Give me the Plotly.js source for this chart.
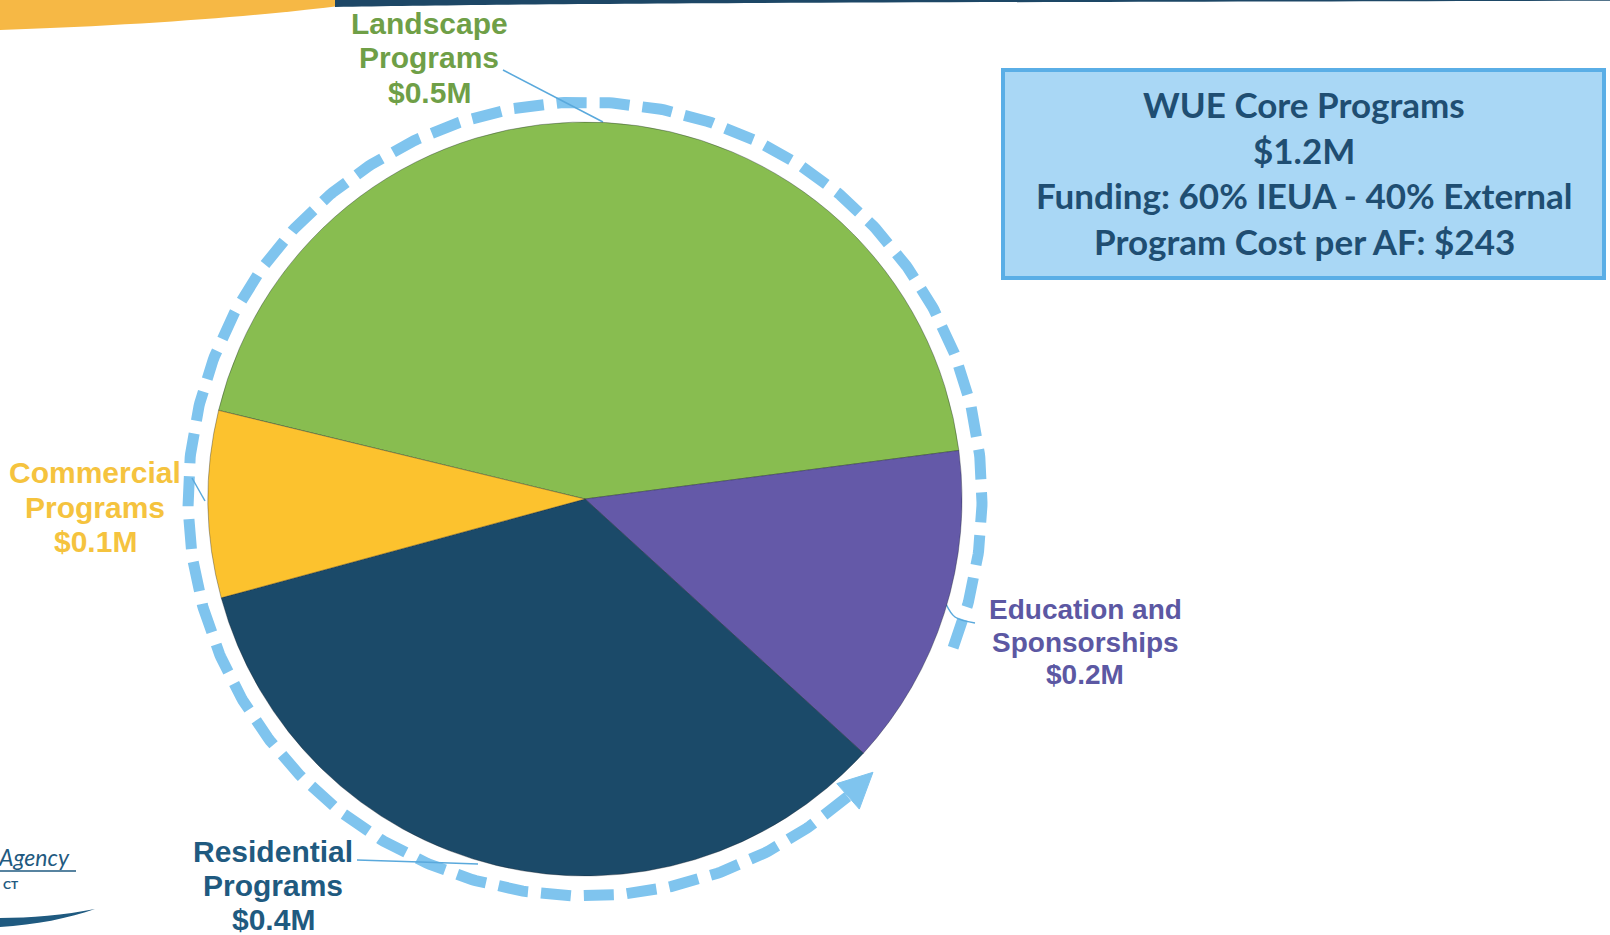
<!DOCTYPE html>
<html><head><meta charset="utf-8">
<script src="https://cdn.plot.ly/plotly-3.0.1.min.js"></script>
<style>html,body{margin:0;padding:0;background:#fff;overflow:hidden}</style>
</head><body>
<div id="chart" style="width:1610px;height:935px"></div>
<script>
// ---------- data ----------
const categories = ["Landscape Programs", "Education and Sponsorships", "Residential Programs", "Commercial Programs"];
const valuesM = [0.53, 0.166, 0.408, 0.096];          // $ millions
const labelLines = [["Landscape", "Programs"], ["Education and", "Sponsorships"], ["Residential", "Programs"], ["Commercial", "Programs"]];
const boxLines = ["WUE Core Programs", "$1.2M", "Funding: 60% IEUA - 40% External", "Program Cost per AF: $243"];
const logoTexts = ["Agency", "CT"];

// ---------- styles / layout geometry ----------
const W = 1610, H = 935;
const sliceColors = ["#88bd50", "#6459a8", "#1b4a69", "#fcc22e"];
const labelColors = ["#6f9f47", "#5c58a3", "#1f5a80", "#f5c33e"];
const pie = {cx: 585, cy: 499, r: 377};
const ring = {r: 397, start: -22, end: 311.5, color: "#7fc4ee", width: 11};
const labelPos = [
  {x: 429, ys: [23, 57, 92], size: 30},
  {x: 1085, ys: [609, 642, 674], size: 28},
  {x: 273, ys: [851, 885, 919], size: 30},
  {x: 95, ys: [472, 507, 541], size: 30}
];
const leaders = [
  [[503, 70], [603, 122]],
  [[946, 604], [955, 617], [975, 623]],
  [[357, 860], [420, 862], [478, 864]],
  [[192, 478], [205, 501]]
];
const box = {x0: 1003, x1: 1604, y0: 70, y1: 278, cx: 1304, ys: [104, 150, 195, 241], size: 35};

const fmt = v => "$" + v.toFixed(1) + "M";

// ---------- traces ----------
const traces = [];
traces.push({
  type: "pie", values: valuesM, labels: categories, sort: false,
  direction: "clockwise", rotation: -76.4,
  marker: {colors: sliceColors, line: {color: "rgba(20,30,40,0.35)", width: 1}},
  textinfo: "none", hoverinfo: "label+value", showlegend: false,
  domain: {x: [(pie.cx - pie.r) / W, (pie.cx + pie.r) / W],
           y: [(H - pie.cy - pie.r) / H, (H - pie.cy + pie.r) / H]}
});

// dashed ring with arrow
const rx = [], ry = [];
for (let a = ring.start; a <= ring.end + 1e-9; a += 0.5) {
  const t = a * Math.PI / 180;
  rx.push(pie.cx + ring.r * Math.cos(t));
  ry.push(pie.cy - ring.r * Math.sin(t));
}
traces.push({type: "scatter", mode: "lines", x: rx, y: ry, hoverinfo: "skip", showlegend: false,
  line: {color: ring.color, width: ring.width, dash: "30px,13px"}});
const P = (a, r) => { const t = a * Math.PI / 180; return [pie.cx + r * Math.cos(t), pie.cy - r * Math.sin(t)]; };
const tip = P(ring.end + 5, ring.r), b1 = P(ring.end, ring.r + 17), b2 = P(ring.end, ring.r - 17);
traces.push({type: "scatter", mode: "lines", fill: "toself", fillcolor: ring.color,
  x: [tip[0], b1[0], b2[0], tip[0]], y: [tip[1], b1[1], b2[1], tip[1]],
  line: {color: ring.color, width: 1}, hoverinfo: "skip", showlegend: false});

// leader lines
leaders.forEach(l => traces.push({type: "scatter", mode: "lines", x: l.map(p => p[0]), y: l.map(p => p[1]),
  line: {color: "#5aa9dc", width: 1.5, shape: "spline"}, hoverinfo: "skip", showlegend: false}));

// ---------- annotations ----------
const ann = [];
categories.forEach((c, i) => {
  const lines = labelLines[i].concat([fmt(valuesM[i])]);
  lines.forEach((t, j) => ann.push({x: labelPos[i].x, y: labelPos[i].ys[j], xref: "x", yref: "y",
    text: t, showarrow: false, xanchor: "center", yanchor: "middle",
    font: {family: "Liberation Sans, Arial, sans-serif", size: labelPos[i].size, color: labelColors[i], weight: 700}}));
});
boxLines.forEach((t, j) => ann.push({x: box.cx, y: box.ys[j], xref: "x", yref: "y", text: t, showarrow: false,
  xanchor: "center", yanchor: "middle",
  font: {family: "Lato, Open Sans, sans-serif", size: box.size, color: "#1f4e72", weight: 700}}));
ann.push({x: 72, y: 857, xref: "x", yref: "y", text: "<i>" + logoTexts[0] + "</i>", showarrow: false,
  xanchor: "right", yanchor: "middle", font: {family: "Lato, sans-serif", size: 23, color: "#1f5a80"}});
ann.push({x: 1, y: 884, xref: "x", yref: "y", text: logoTexts[1], showarrow: false,
  xanchor: "left", yanchor: "middle", font: {family: "Lato, sans-serif", size: 12, color: "#1f5a80", weight: 700}});

// ---------- shapes ----------
const shapes = [
  {type: "path", xref: "x", yref: "y", path: "M0,0 L385,0 C300,12 180,24 0,30 Z", fillcolor: "#f6b845", line: {width: 0}, layer: "below"},
  {type: "path", xref: "x", yref: "y", path: "M335,7 C520,3.5 900,2 1610,0.8 L1610,0 L335,0 Z", fillcolor: "#1d4766", line: {width: 0}, layer: "below"},
  {type: "rect", xref: "x", yref: "y", x0: box.x0, x1: box.x1, y0: box.y0, y1: box.y1,
    fillcolor: "#a9d7f5", line: {color: "#5aaee6", width: 4}, layer: "below"},
  {type: "line", xref: "x", yref: "y", x0: 0, x1: 76, y0: 871, y1: 871, line: {color: "#1f5a80", width: 1.5}},
  {type: "path", xref: "x", yref: "y", path: "M0,918 C30,918 65,915 95,909 C70,918 35,925 0,927 Z", fillcolor: "#1f5a80", line: {width: 0}}
];

const layout = {
  width: W, height: H, autosize: false,
  margin: {l: 0, r: 0, t: 0, b: 0, pad: 0},
  paper_bgcolor: "#ffffff", plot_bgcolor: "rgba(0,0,0,0)",
  xaxis: {range: [0, W], visible: false, fixedrange: true, domain: [0, 1]},
  yaxis: {range: [H, 0], visible: false, fixedrange: true, domain: [0, 1]},
  showlegend: false, annotations: ann, shapes: shapes
};
Plotly.newPlot("chart", traces, layout, {displayModeBar: false, staticPlot: false});
</script>
</body></html>
